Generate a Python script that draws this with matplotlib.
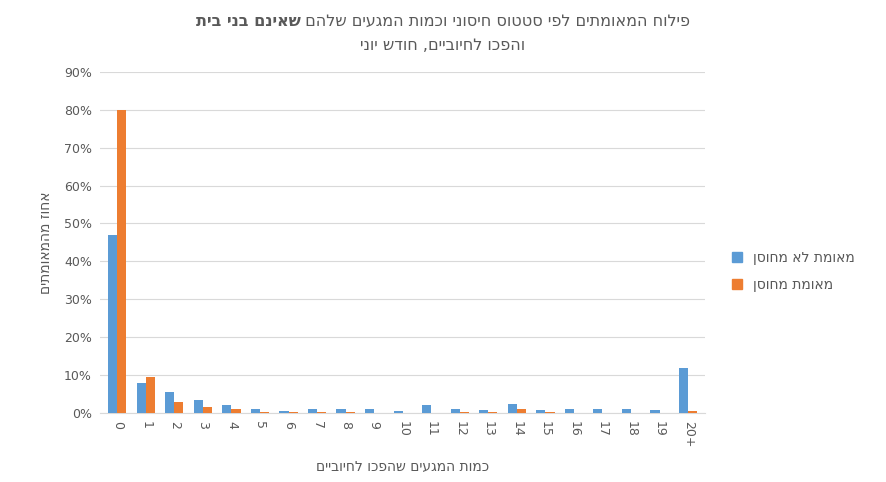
import matplotlib
matplotlib.use("Agg")
import matplotlib.pyplot as plt
import numpy as np
from matplotlib.patches import Patch

categories = ["0", "1", "2", "3", "4", "5", "6", "7", "8", "9", "10", "11", "12",
              "13", "14", "15", "16", "17", "18", "19", "20+"]
unvaccinated = [47, 8, 5.5, 3.5, 2, 1, 0.5, 1, 1, 1, 0.5, 2, 1, 0.8, 2.5, 0.7, 1, 1, 1, 0.7, 12]
vaccinated = [80, 9.5, 3, 1.5, 1, 0.3, 0.3, 0.3, 0.2, 0, 0, 0, 0.3, 0.3, 1, 0.3, 0, 0, 0, 0, 0.5]

title_regular = "פילוח המאומתים לפי סטטוס חיסוני וכמות המגעים שלהם "
title_bold = "שאינם בני בית"
title_line2 = "והפכו לחיוביים, חודש יוני"
ylabel = "אחוז מהמאומתים"
xlabel = "כמות המגעים שהפכו לחיוביים"
legend_labels = ["מאומת לא מחוסן", "מאומת מחוסן"]

def rtl(s):
    return s[::-1]

blue = "#5B9BD5"
orange = "#ED7D31"
gray = "#595959"

fig = plt.figure(figsize=(8.86, 4.82), dpi=100)
ax = fig.add_axes([0.113, 0.143, 0.683, 0.708])

x = np.arange(len(categories))
w = 0.32
ax.bar(x - w / 2, unvaccinated, w, color=blue, zorder=3)
ax.bar(x + w / 2, vaccinated, w, color=orange, zorder=3)

ax.set_ylim(0, 90)
ax.set_yticks(np.arange(0, 91, 10))
ax.set_yticklabels([f"{v}%" for v in range(0, 91, 10)], color=gray, fontsize=9)
ax.set_xlim(-0.6, len(categories) - 0.4)
ax.set_xticks(x)
ax.set_xticklabels(categories, rotation=270, color=gray, fontsize=9)
ax.tick_params(axis="both", length=0, pad=6)
ax.grid(axis="y", color="#D9D9D9", linewidth=0.8, zorder=0)
for s in ["top", "right", "left"]:
    ax.spines[s].set_visible(False)
ax.spines["bottom"].set_color("#D9D9D9")

ax.set_ylabel(rtl(ylabel), color=gray, fontsize=10, labelpad=8)
ax.set_xlabel(rtl(xlabel), color=gray, fontsize=10, labelpad=8)

# Title with bold part
fig.canvas.draw()
r = fig.canvas.get_renderer()
t_reg = fig.text(0, 0.955, rtl(title_regular), fontsize=11.5, color=gray, ha="left", va="center")
t_bold = fig.text(0, 0.955, rtl(title_bold), fontsize=11.5, color=gray, ha="left", va="center", fontweight="bold")
wr = t_reg.get_window_extent(r).width
wb = t_bold.get_window_extent(r).width
total = wr + wb
figw = fig.get_figwidth() * fig.dpi
cx = 0.5 * figw
start = cx - total / 2
t_bold.set_x(start / figw)
t_reg.set_x((start + wb) / figw)
fig.text(0.5, 0.905, rtl(title_line2), fontsize=11.5, color=gray, ha="center", va="center")

handles = [Patch(color=blue), Patch(color=orange)]
fig.legend(handles, [rtl(l) for l in legend_labels], loc="center left",
           bbox_to_anchor=(0.812, 0.437), frameon=False, fontsize=10,
           handlelength=0.7, handleheight=0.7, labelspacing=0.95, labelcolor=gray)

fig.savefig("out.png", dpi=100)
